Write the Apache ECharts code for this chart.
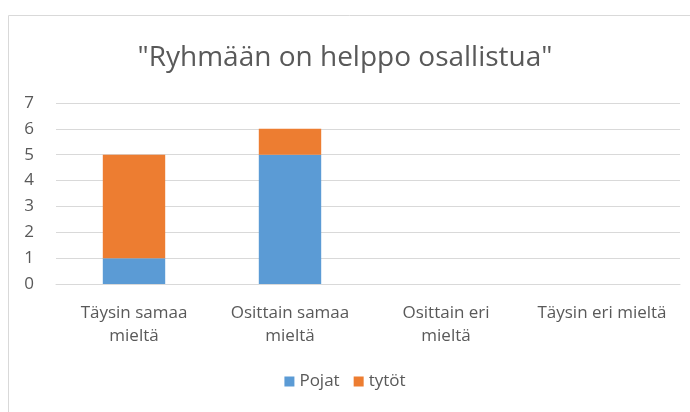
<!DOCTYPE html>
<html>
<head>
<meta charset="utf-8">
<script src="https://cdn.jsdelivr.net/npm/echarts@6/dist/echarts.min.js"></script>
<style>
  html, body { margin: 0; padding: 0; background: #fff; }
  #chart { width: 690px; height: 412px; }
</style>
</head>
<body>
<div id="chart"></div>
<script>
const categories = ['Täysin samaa mieltä', 'Osittain samaa mieltä', 'Osittain eri mieltä', 'Täysin eri mieltä'];
// line breaks as in the original axis
const tickLabels = ['Täysin samaa\nmieltä', 'Osittain samaa\nmieltä', 'Osittain eri\nmieltä', 'Täysin eri mieltä'];
const pojat = [1, 5, 0, 0];
const tytot = [4, 1, 0, 0];
const titleText = '"Ryhmään on helppo osallistua"';

const font = '"Open Sans", sans-serif';
const textColor = '#595959';

const chart = echarts.init(document.getElementById('chart'));
chart.setOption({
    animation: false,
    textStyle: { fontFamily: font },
    graphic: [{
        type: 'rect',
        shape: { x: 8.5, y: 15.5, width: 700, height: 420 },
        style: { fill: 'none', stroke: '#d9d9d9', lineWidth: 1 },
        silent: true
    }],
    title: {
        text: titleText,
        left: 'center',
        top: 39,
        textStyle: { fontFamily: font, fontSize: 28, fontWeight: 'normal', color: textColor }
    },
    legend: {
        bottom: 17,
        left: 'center',
        itemWidth: 10,
        itemHeight: 10,
        itemGap: 14,
        icon: 'rect',
        textStyle: { fontFamily: font, fontSize: 17, color: textColor },
        data: ['Pojat', 'tytöt']
    },
    grid: { left: 56, right: 10, top: 103, bottom: 128 },
    xAxis: {
        type: 'category',
        data: categories,
        axisLine: { show: true, lineStyle: { color: '#d9d9d9' } },
        axisTick: { show: false },
        axisLabel: {
            color: textColor,
            fontSize: 17,
            margin: 18,
            lineHeight: 23,
            interval: 0,
            formatter: (v, i) => tickLabels[i]
        }
    },
    yAxis: {
        type: 'value',
        min: 0,
        max: 7,
        interval: 1,
        axisLine: { show: false },
        axisTick: { show: false },
        splitLine: { lineStyle: { color: '#d9d9d9' } },
        axisLabel: { color: textColor, fontSize: 17, margin: 22 }
    },
    series: [
        {
            name: 'Pojat',
            type: 'bar',
            stack: 'total',
            barWidth: '40%',
            data: pojat,
            itemStyle: { color: '#5b9bd5' }
        },
        {
            name: 'tytöt',
            type: 'bar',
            stack: 'total',
            data: tytot,
            itemStyle: { color: '#ed7d31' }
        }
    ]
});
</script>
</body>
</html>
